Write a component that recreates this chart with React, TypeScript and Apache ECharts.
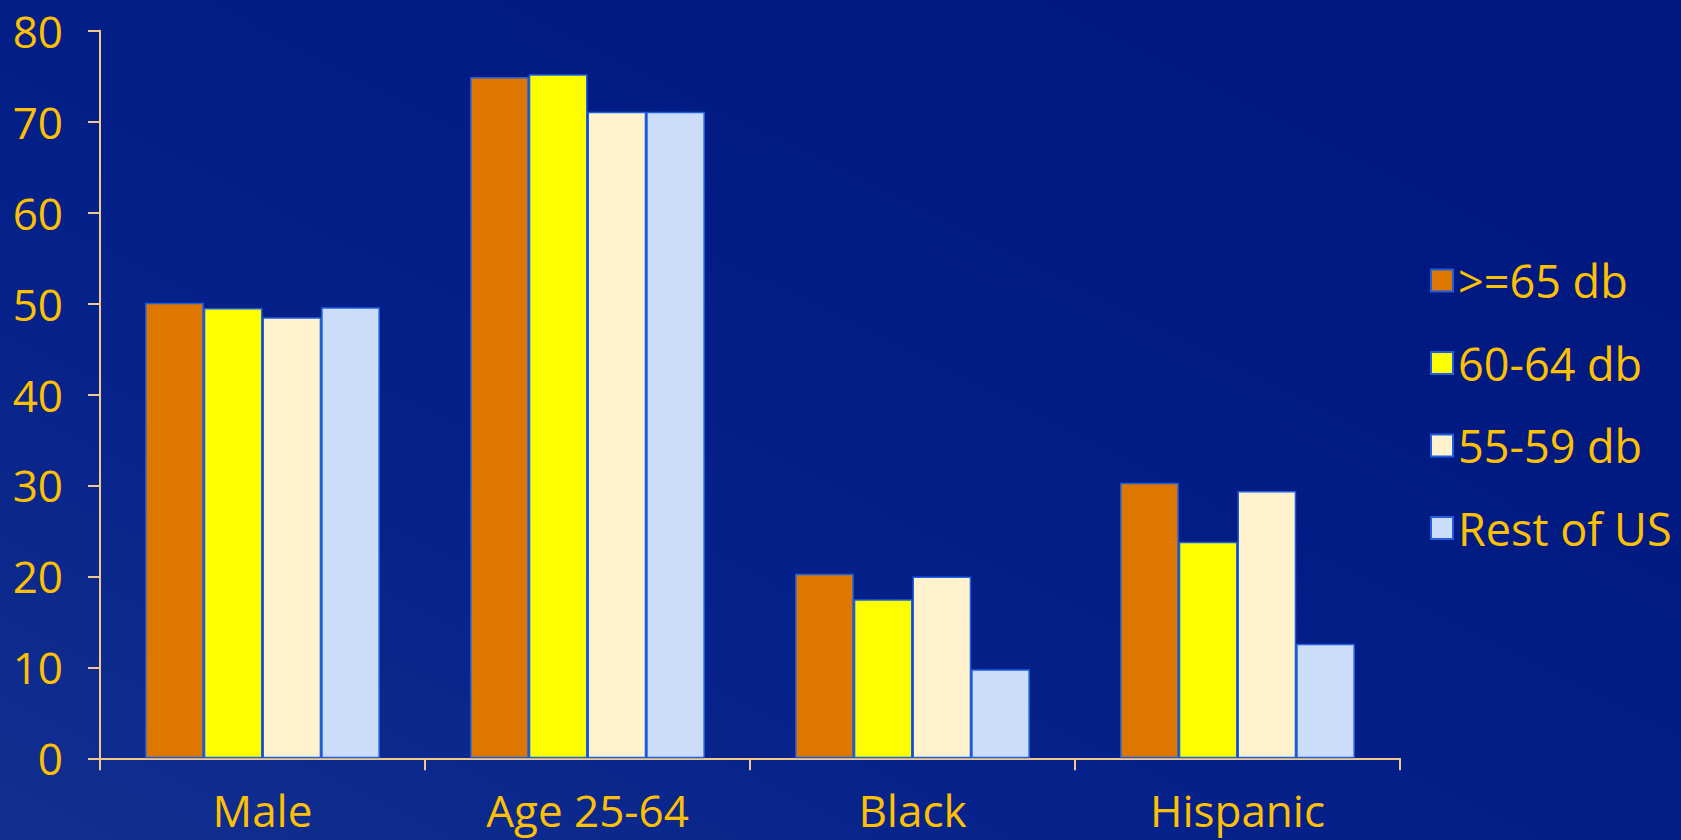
import React, { useEffect, useRef } from "react";
import * as echarts from "echarts";

const categories = ["Male", "Age 25-64", "Black", "Hispanic"];
const seriesNames = [">=65 db", "60-64 db", "55-59 db", "Rest of US"];
const s65 = [50.1, 74.9, 20.3, 30.3];
const s60 = [49.5, 75.2, 17.5, 23.8];
const s55 = [48.5, 71.1, 20.0, 29.4];
const sRest = [49.6, 71.1, 9.8, 12.6];
const seriesColors = ["#DD7700", "#FFFF00", "#FFF2CC", "#CCDDF9"];
const yTicks = [0, 10, 20, 30, 40, 50, 60, 70, 80];

export default function App() {
  const ref = useRef<HTMLDivElement>(null);
  useEffect(() => {
    if (!ref.current) return;
    const chart = echarts.init(ref.current, undefined, { renderer: "svg" });
    const font = "'Open Sans', 'Noto Sans', sans-serif";
    const textColor = "#FFC000";
    const axisColor = "#F2C88C";
    const data = [s65, s60, s55, sRest];
    chart.setOption({
      animation: false,
      backgroundColor: new echarts.graphic.LinearGradient(0, 1, 1, 0, [
        { offset: 0, color: "#12308F" },
        { offset: 0.35, color: "#05218A" },
        { offset: 0.7, color: "#001A82" },
        { offset: 1, color: "#001880" },
      ]),
      textStyle: { fontFamily: font },
      grid: { left: 100, right: 281, top: 30.7, bottom: 81.7, containLabel: false },
      legend: {
        orient: "vertical",
        left: 1425,
        top: 253,
        itemWidth: 22,
        itemHeight: 22,
        itemGap: 37.5,
        icon: "rect",
        data: seriesNames,
        itemStyle: { borderColor: "#1E5FE0", borderWidth: 2 },
        textStyle: {
          color: textColor,
          fontSize: 45,
          fontFamily: font,
          lineHeight: 44,
          padding: [0, 0, 0, 0],
        },
      },
      xAxis: {
        type: "category",
        data: categories,
        axisLine: { show: true, lineStyle: { color: axisColor, width: 2 } },
        axisTick: { show: true, length: 12, lineStyle: { color: axisColor, width: 2 } },
        axisLabel: { color: textColor, fontSize: 44, fontFamily: font, margin: 30 },
        splitLine: { show: false },
      },
      yAxis: {
        type: "value",
        min: yTicks[0],
        max: yTicks[yTicks.length - 1],
        interval: 10,
        axisLine: { show: true, lineStyle: { color: axisColor, width: 2 } },
        axisTick: { show: true, length: 12, lineStyle: { color: axisColor, width: 2 } },
        axisLabel: { color: textColor, fontSize: 44, fontFamily: font, margin: 37 },
        splitLine: { show: false },
      },
      series: seriesNames.map((name, i) => ({
        name,
        type: "bar",
        data: data[i],
        barWidth: 58.7,
        barGap: "0%",
        itemStyle: { color: seriesColors[i], borderColor: "#1E5FE0", borderWidth: 1.5 },
      })),
    });
    return () => chart.dispose();
  }, []);
  return (
    <div
      ref={ref}
      style={{ position: "absolute", left: 0, top: 0, width: 1681, height: 840 }}
    />
  );
}
